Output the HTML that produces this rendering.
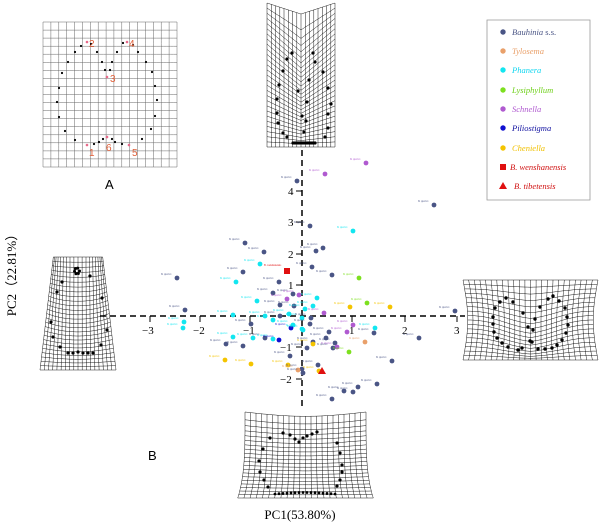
<!DOCTYPE html>
<html><head><meta charset="utf-8"><style>
html,body{margin:0;padding:0;background:#fff;}
svg{display:block}
text{font-family:"Liberation Serif",serif}
text.s{font-family:"Liberation Sans",sans-serif}
</style></head><body>
<svg id="s" width="600" height="523" viewBox="0 0 600 523" xmlns="http://www.w3.org/2000/svg">
<g id="gridsA" stroke="#666" stroke-width="0.5" fill="none"></g>
<g id="grids" stroke="#000" stroke-width="0.45" fill="none"></g>
<g id="gdots" fill="#000"></g>
<g fill="#e0603a" font-size="10">
<text class="s" x="89" y="47">2</text>
<text class="s" x="129" y="47">4</text>
<text class="s" x="110" y="82">3</text>
<text class="s" x="89" y="156">1</text>
<text class="s" x="106" y="151">6</text>
<text class="s" x="132" y="156">5</text>
</g>
<g fill="#e86a8a"><circle cx="87" cy="42" r="1.3"/><circle cx="127" cy="42" r="1.3"/><circle cx="107" cy="77" r="1.3"/><circle cx="87" cy="145" r="1.3"/><circle cx="107" cy="137" r="1.3"/><circle cx="129" cy="145" r="1.3"/></g>
<text class="s" x="105" y="189" font-size="13">A</text>
<text class="s" x="148" y="460" font-size="13">B</text>
<g stroke="#000" stroke-width="1.5" stroke-dasharray="6,4">
<line x1="302" y1="150" x2="302" y2="410"/>
<line x1="100" y1="316" x2="465" y2="316"/>
</g>
<g stroke="#000" stroke-width="1">
<line x1="150" y1="316" x2="150" y2="322"/><line x1="200" y1="316" x2="200" y2="322"/><line x1="250" y1="316" x2="250" y2="322"/>
<line x1="352" y1="316" x2="352" y2="322"/><line x1="405" y1="316" x2="405" y2="322"/><line x1="457" y1="316" x2="457" y2="322"/>
<line x1="296" y1="191" x2="302" y2="191"/><line x1="296" y1="222" x2="302" y2="222"/><line x1="296" y1="254" x2="302" y2="254"/><line x1="296" y1="285" x2="302" y2="285"/><line x1="296" y1="347" x2="302" y2="347"/><line x1="296" y1="379" x2="302" y2="379"/>
</g>
<g font-size="11" fill="#000">
<text x="142" y="334">−3</text><text x="193" y="334">−2</text><text x="243" y="334">−1</text><text x="349" y="334">1</text><text x="402" y="334">2</text><text x="454" y="334">3</text>
<text x="288" y="195">4</text><text x="288" y="226">3</text><text x="288" y="258">2</text><text x="288" y="289">1</text><text x="280" y="351">−1</text><text x="280" y="383">−2</text>
</g>
<text x="300" y="519" font-size="13" text-anchor="middle">PC1(53.80%)</text>
<text transform="translate(16,272) rotate(-90)" font-size="13" text-anchor="middle">PC2（22.81%）</text>
<g id="pts"></g>
<g>
<path d="M487,200 L487,20 L590,20 L590,200 Z" fill="#fff" stroke="#999" stroke-width="0.8"/>
<g font-size="8.5" font-style="italic">
<circle cx="503" cy="32" r="2.7" fill="#4a5585"/><text x="512" y="35" fill="#4a5585">Bauhinia <tspan font-style="normal">s.s.</tspan></text>
<circle cx="503" cy="51" r="2.7" fill="#e9a06a"/><text x="512" y="54" fill="#e9a06a">Tylosema</text>
<circle cx="503" cy="70" r="2.7" fill="#12e6f0"/><text x="512" y="73" fill="#12d6f0">Phanera</text>
<circle cx="503" cy="90" r="2.7" fill="#7de01f"/><text x="512" y="93" fill="#6fd01a">Lysiphyllum</text>
<circle cx="503" cy="109" r="2.7" fill="#b05ad0"/><text x="512" y="112" fill="#b05ad0">Schnella</text>
<circle cx="503" cy="128" r="2.7" fill="#1010d0"/><text x="512" y="131" fill="#1010a0">Piliostigma</text>
<circle cx="503" cy="148" r="2.7" fill="#f4c400"/><text x="512" y="151" fill="#f0c000">Cheniella</text>
<rect x="500" y="164" width="6" height="6" fill="#e01010"/><text x="510" y="170" fill="#d01010">B. wenshanensis</text>
<path d="M503,182 L507,189 L499,189 Z" fill="#e01010"/><text x="514" y="189" fill="#d01010">B. tibetensis</text>
</g></g>
</svg>
<script>
(function(){
var NS="http://www.w3.org/2000/svg";
var GA=document.getElementById('gridsA'),G=document.getElementById('grids'),D=document.getElementById('gdots'),P=document.getElementById('pts');
function el(p,t,a){var e=document.createElementNS(NS,t);for(var k in a)e.setAttribute(k,a[k]);p.appendChild(e);return e;}
function grid(par,x0,y0,w,h,nx,ny,f){
 for(var i=0;i<=nx;i++){var d="";for(var j=0;j<=40;j++){var u=i/nx,v=j/40,q=f(u,v);d+=(j?"L":"M")+(x0+q[0]*w).toFixed(1)+","+(y0+q[1]*h).toFixed(1);}el(par,'path',{d:d});}
 for(var j=0;j<=ny;j++){var d="";for(var i=0;i<=40;i++){var u=i/40,v=j/ny,q=f(u,v);d+=(i?"L":"M")+(x0+q[0]*w).toFixed(1)+","+(y0+q[1]*h).toFixed(1);}el(par,'path',{d:d});}
}
function dots(arr,r){arr.forEach(function(p){el(D,'circle',{cx:p[0],cy:p[1],r:r});});}
grid(GA,43,22,134,145,17,18,function(u,v){return [u,v];});
dots([[81,46],[91,44],[75,52],[97,52],[117,52],[123,43],[133,45],[138,52],[68,62],[102,62],[112,62],[146,62],[62,73],[105,70],[110,70],[152,72],[59,88],[155,86],[57,102],[157,100],[59,117],[155,116],[65,131],[151,129],[75,140],[142,139],[94,144],[99,142],[103,139],[107,137],[112,139],[115,142],[122,144]],1.1);
grid(G,267,3,68,144,16,28,function(u,v){var c=1-Math.abs(2*u-1);var y=(1-c*0.85)*v+c*0.85*(0.09+0.91*Math.pow(v,0.6));return [u,y];});
dots([[292,53],[313,53],[287,59],[315,62],[283,71],[323,72],[309,80],[279,85],[298,91],[328,88],[277,99],[307,102],[331,104],[277,113],[302,116],[328,114],[306,121],[278,123],[328,128],[283,133],[304,132],[325,137],[287,137]],1.6);
for(var k=0;k<12;k++)el(D,'circle',{cx:293+k*2,cy:143,r:1.6});
grid(G,40,257,76,113,18,26,function(u,v){var pinch=(1-v)*0.25*Math.pow(Math.abs(u-0.5)*2,1.2);var uu=0.5+(u-0.5)*(1-pinch*1.4);var vv=v+0.05*Math.sin(Math.PI*u)*v*(1-v)*4;return [uu,vv];});
dots([[62,282],[90,276],[57,292],[102,298],[51,322],[107,330],[53,337],[101,345],[60,347],[68,353],[73,353],[78,352],[83,353],[88,353],[93,353]],1.6);
for(var k=0;k<6;k++)el(D,'circle',{cx:77+Math.cos(k)*2.5,cy:271+Math.sin(k)*3,r:1.5});
grid(G,463,280,135,80,24,18,function(u,v){var uu=0.5+(u-0.5)*(1-0.07*Math.sin(Math.PI*v));var s=Math.pow(Math.sin(Math.PI*u),2);var vv=v+0.22*s*v*(1-v)*3*(1-Math.abs(u-0.5));return [uu,Math.min(vv,1)];});
dots([[506,298],[500,302],[553,296],[548,299],[559,301],[513,302],[540,307],[495,308],[565,308],[523,313],[493,317],[535,319],[567,317],[493,324],[528,327],[568,325],[533,330],[494,332],[566,333],[497,338],[562,340],[530,341],[532,342],[502,343],[557,345],[508,347],[552,348],[518,350],[522,348],[545,349],[538,349]],1.7);
grid(G,245,412,121,86,22,20,function(u,v){var squeeze=0.06*Math.pow(v,3);var uu=u+(u-0.5)*squeeze*2;var vv=Math.pow(v,0.8);vv=vv+0.05*Math.sin(Math.PI*u)*(1-v);return [uu,Math.min(vv,1)];});
dots([[270,438],[283,433],[290,435],[295,439],[299,442],[303,438],[307,436],[312,434],[317,432],[337,443],[263,449],[340,453],[259,461],[342,465],[260,472],[342,472],[264,480],[340,480],[268,487],[337,486]],1.6);
for(var k=0;k<16;k++)el(D,'circle',{cx:275+k*4,cy:494-Math.sin(k/15*Math.PI)*1.5,r:1.4});
var C={n:"#4a5585",o:"#e9a06a",c:"#12e6f0",g:"#7de01f",p:"#b05ad0",b:"#1010d0",y:"#f4c400"};
var pts=[[366,163,'p'],[325,174,'p'],[297,181,'n'],[434,205,'n'],[310,226,'n'],[353,231,'c'],[245,243,'n'],[264,252,'n'],[316,251,'n'],[323,248,'n'],[260,264,'c'],[312,267,'n'],[243,272,'n'],[332,275,'n'],[359,278,'g'],[177,278,'n'],[236,282,'c'],[279,282,'n'],[273,293,'n'],[293,294,'n'],[299,295,'p'],[257,301,'c'],[287,299,'p'],[317,298,'c'],[280,305,'n'],[294,306,'n'],[313,306,'c'],[367,303,'g'],[350,307,'y'],[390,307,'y'],[305,309,'c'],[185,310,'n'],[289,314,'c'],[324,313,'p'],[233,315,'c'],[455,311,'n'],[265,316,'c'],[280,316,'n'],[302,318,'c'],[273,320,'c'],[184,322,'c'],[311,318,'n'],[353,325,'p'],[251,324,'n'],[293,325,'c'],[310,324,'n'],[375,328,'c'],[183,328,'c'],[291,328,'b'],[302,329,'c'],[303,330,'c'],[329,332,'n'],[347,332,'p'],[374,333,'n'],[233,337,'c'],[253,338,'c'],[265,338,'n'],[273,339,'c'],[279,340,'b'],[326,338,'n'],[419,338,'n'],[313,342,'n'],[365,342,'o'],[226,344,'n'],[243,346,'n'],[335,343,'n'],[337,347,'p'],[333,348,'n'],[313,344,'y'],[307,348,'n'],[349,352,'g'],[290,356,'n'],[225,360,'y'],[251,364,'y'],[392,361,'n'],[288,365,'y'],[318,365,'n'],[302,369,'n'],[298,370,'o'],[319,371,'y'],[303,373,'n'],[377,384,'n'],[358,387,'n'],[344,391,'n'],[353,392,'n'],[332,399,'n']];
pts.forEach(function(p){
 var t=el(P,'text',{x:p[0]-16,y:p[1]-3,'font-size':'2.6',fill:C[p[2]],'font-style':'italic'});t.textContent="B. species";
 el(P,'circle',{cx:p[0],cy:p[1],r:2.4,fill:C[p[2]]});
});
el(P,'rect',{x:284,y:268,width:6,height:6,fill:"#e01010"});
var t=el(P,'text',{x:264,y:266,'font-size':'2.6',fill:"#e01010"});t.textContent="B. wenshanensis";
el(P,'path',{d:"M322,367 L326,374 L318,374 Z",fill:"#e01010"});
})();
</script>
</body></html>
